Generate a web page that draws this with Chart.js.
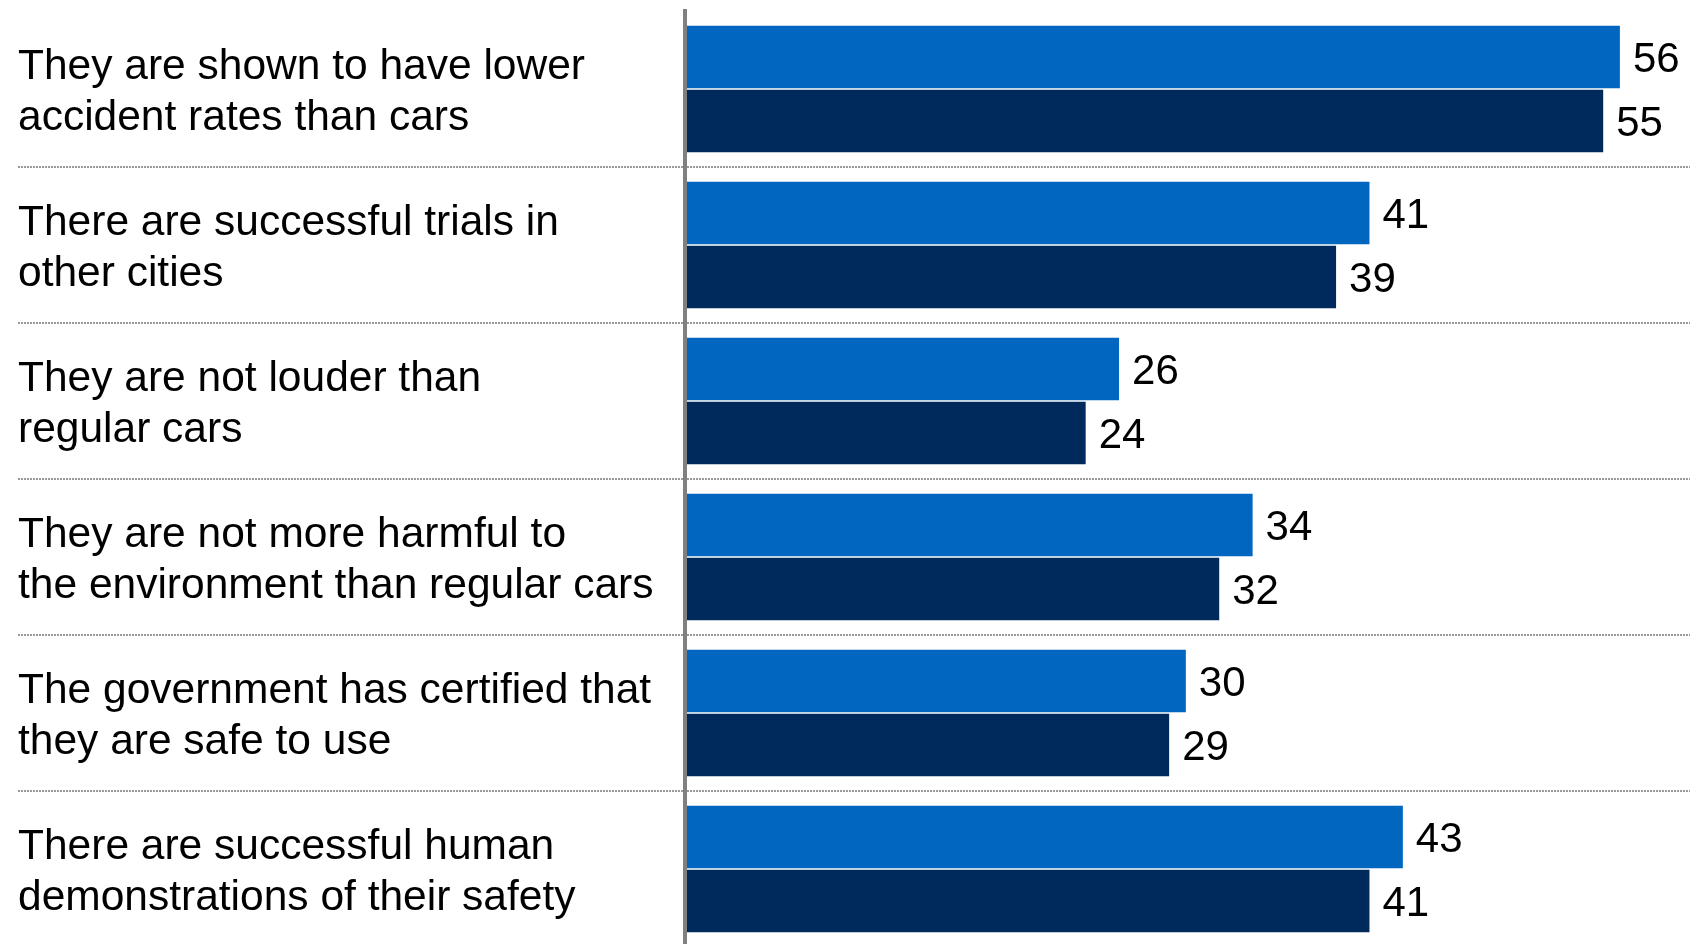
<!DOCTYPE html>
<html>
<head>
<meta charset="utf-8">
<script src="https://cdn.jsdelivr.net/npm/chart.js@4/dist/chart.umd.min.js"></script>
<style>
  html, body { margin: 0; padding: 0; background: #fff; overflow: hidden; }
  #wrap { position: relative; width: 1690px; height: 948px; }
</style>
</head>
<body>
<div id="wrap"><canvas id="chart"></canvas></div>
<script>
const categories = [
  ['They are shown to have lower', 'accident rates than cars'],
  ['There are successful trials in', 'other cities'],
  ['They are not louder than', 'regular cars'],
  ['They are not more harmful to', 'the environment than regular cars'],
  ['The government has certified that', 'they are safe to use'],
  ['There are successful human', 'demonstrations of their safety'],
];
const seriesA = [56, 41, 26, 34, 30, 43];
const seriesB = [55, 39, 24, 32, 29, 41];

const FONT = "'Liberation Sans', Arial, sans-serif";
const gridColor = (c) => (c.type === 'tick' && c.index > 0 ? '#9a9a9a' : 'rgba(0,0,0,0)');

const valueLabels = {
  id: 'valueLabels',
  afterDatasetsDraw(chart) {
    const { ctx } = chart;
    ctx.save();
    ctx.font = '42px ' + FONT;
    ctx.fillStyle = '#000';
    ctx.textAlign = 'left';
    ctx.textBaseline = 'middle';
    chart.data.datasets.forEach((ds, i) => {
      chart.getDatasetMeta(i).data.forEach((bar, j) => {
        ctx.fillText(String(ds.data[j]), bar.x + 13, bar.y + 3);
      });
    });
    ctx.restore();
  },
};

new Chart(document.getElementById('chart'), {
  type: 'bar',
  data: {
    labels: categories,
    datasets: [
      { label: 'A', data: seriesA, backgroundColor: '#0066BF', barPercentage: 0.98, categoryPercentage: 0.82 },
      { label: 'B', data: seriesB, backgroundColor: '#00295C', barPercentage: 0.98, categoryPercentage: 0.82 },
    ],
  },
  options: {
    indexAxis: 'y',
    responsive: true,
    maintainAspectRatio: false,
    animation: false,
    layout: { padding: { left: 18, top: 11, right: 0, bottom: 1 } },
    plugins: { legend: { display: false }, tooltip: { enabled: false } },
    scales: {
      x: { display: false, min: 0, max: 60.2 },
      y: {
        border: { display: true, color: '#808080', width: 4, z: 1, dash: [2, 1] },
        grid: {
          color: gridColor,
          tickColor: gridColor,
          lineWidth: 2,
          tickWidth: 2,
          tickBorderDash: [2, 1],
          tickLength: 667,
          drawTicks: true,
        },
        ticks: {
          crossAlign: 'far',
          color: '#000',
          autoSkip: false,
          labelOffset: 4,
          font: { size: 42.5, family: FONT, lineHeight: 1.19 },
        },
        afterFit: (scale) => {
          scale.width = 667;
          scale.paddingTop = 0;
          scale.paddingBottom = 0;
        },
      },
    },
  },
  plugins: [valueLabels],
});
</script>
</body>
</html>
